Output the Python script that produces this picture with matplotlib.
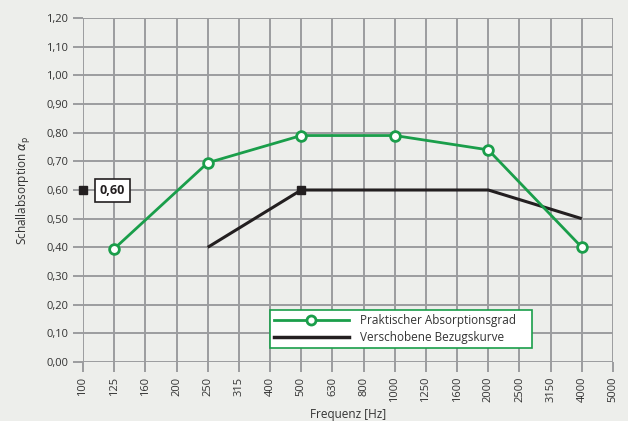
import numpy as np
import matplotlib
matplotlib.use("Agg")
import matplotlib.pyplot as plt
from matplotlib.lines import Line2D

plt.rcParams.update({"font.family": "Open Sans"})

# ── data ───────────────────────────────────────────────────────────────────
freq_labels = ["100", "125", "160", "200", "250", "315", "400", "500", "630",
               "800", "1000", "1250", "1600", "2000", "2500", "3150", "4000", "5000"]
y_ticks = [0.0, 0.1, 0.2, 0.3, 0.4, 0.5, 0.6, 0.7, 0.8, 0.9, 1.0, 1.1, 1.2]

prakt_freq = ["125", "250", "500", "1000", "2000", "4000"]
prakt_vals = [0.395, 0.695, 0.79, 0.79, 0.74, 0.40]

bezug_freq = ["250", "500", "1000", "2000", "4000"]
bezug_vals = [0.40, 0.60, 0.60, 0.60, 0.50]

alpha_w = 0.60
alpha_w_label = "0,60"

# ── styles ─────────────────────────────────────────────────────────────────
BG = "#edeeeb"
GRID = "#9b9c9e"
GREEN = "#1a9e4a"
BLACK = "#231f20"
TXT = "#333333"

W, H = 628, 421
fig = plt.figure(figsize=(W / 100, H / 100), dpi=100)
fig.patch.set_facecolor(BG)
ax = fig.add_axes([83 / W, 1 - 362 / H, (613 - 83) / W, (362 - 18) / H])
ax.set_facecolor(BG)

xi = {f: i for i, f in enumerate(freq_labels)}
nx = len(freq_labels)

ax.set_xlim(0, nx - 1)
ax.set_ylim(0, 1.2)
for s in ax.spines.values():
    s.set_visible(False)

# grid
for i in range(nx):
    ax.axvline(i, color=GRID, lw=1.4, zorder=1)
for y in y_ticks:
    ax.axhline(y, color=GRID, lw=1.4, zorder=1)

ax.set_xticks(range(nx))
ax.set_xticklabels(freq_labels, rotation=90)
ax.set_yticks(y_ticks)
ax.set_yticklabels([f"{v:.2f}".replace(".", ",") for v in y_ticks])
ax.tick_params(axis="both", length=7.5, width=1.4, color=GRID,
               labelsize=8, labelcolor=TXT, pad=3)

# curves
ax.plot([xi[f] for f in bezug_freq], bezug_vals, color=BLACK, lw=2.2,
        zorder=3, solid_capstyle="butt")
ax.plot(xi["500"], 0.60, marker="s", color=BLACK, ms=5.5, zorder=4)
ax.plot([xi[f] for f in prakt_freq], prakt_vals, color=GREEN, lw=2,
        marker="o", ms=7, mfc="white", mec=GREEN, mew=2, zorder=5)

# alpha_w marker + label
ax.plot(0, alpha_w, marker="s", color=BLACK, ms=6, zorder=6, clip_on=False)
ax.text(0.95, alpha_w, alpha_w_label, ha="center", va="center", fontsize=9,
        fontweight="bold", color=BLACK, zorder=7,
        bbox=dict(boxstyle="square,pad=0.4", fc="white", ec=BLACK, lw=1.2))

ax.set_xlabel("Frequenz [Hz]", fontsize=8.5, color=TXT, labelpad=4)
ax.set_ylabel(r"Schallabsorption $\alpha_\mathrm{p}$", fontsize=8.5,
              color=TXT, labelpad=10)

# legend
handles = [
    Line2D([], [], color=GREEN, lw=2, marker="o", ms=6.5, mfc="white",
           mec=GREEN, mew=2),
    Line2D([], [], color=BLACK, lw=2.5),
]
leg = ax.legend(handles, ["Praktischer Absorptionsgrad    ", "Verschobene Bezugskurve"],
                loc="upper left", bbox_to_anchor=(270 / W, 1 - 310 / H),
                bbox_transform=fig.transFigure, fontsize=8.5, frameon=True,
                fancybox=False, handlelength=6.3, handletextpad=1.0,
                borderpad=0.35, labelspacing=0.35, borderaxespad=0)
leg.get_frame().set_edgecolor(GREEN)
leg.get_frame().set_linewidth(1.2)
leg.get_frame().set_facecolor("white")
leg.get_frame().set_alpha(1)
for t in leg.get_texts():
    t.set_color(TXT)
leg.set_zorder(10)

fig.savefig("out.png", dpi=100, facecolor=BG)
